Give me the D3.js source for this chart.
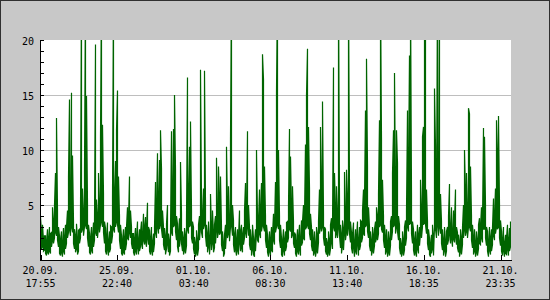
<!DOCTYPE html>
<html>
<head>
<meta charset="utf-8">
<script src="https://cdn.jsdelivr.net/npm/d3@7"></script>
<style>
  body { margin: 0; background: #c8c8c8; }
  svg { display: block; }
  text { font-family: "DejaVu Sans Mono", monospace; font-size: 10px; fill: #000; }
</style>
</head>
<body>
<div id="chart"></div>
<script>

// x tick labels (date line + time line)
var tickDates = ["2011-09-20 17:55", "2011-09-25 22:40", "2011-10-01 03:40",
  "2011-10-06 08:30", "2011-10-11 13:40", "2011-10-16 18:35", "2011-10-21 23:35"];

// y ticks
var yLabels = [5, 10, 15, 20];
var yMinor = d3.range(0, 21);

// one consolidated step per pixel column, first step at 20.09. 17:55
var startTime = "2011-09-20 17:55";
var sampleMinutes = 97.78;

// max value of each step (above 20 gets clipped)
var highs = [
  3.9, 2.5, 3.2, 1.8, 2.2,
  2.2, 1.6, 2.8, 1.9, 3.0, 2.4,
  2.5, 4.8, 3.5, 5.0, 7.9, 12.9, 4.5,
  3.0, 2.2, 1.8, 2.6, 1.5, 2.9, 2.0, 3.2,
  3.0, 4.5, 7.6, 14.6, 5.0, 15.2, 9.5,
  3.5, 2.8, 2.2, 3.3, 1.8, 2.7,
  2.8, 4.2, 25, 6.5, 4.2, 8.0, 25, 14.9, 5.0,
  3.2, 2.4, 1.9, 3.0, 2.1, 3.4,
  3.5, 19.6, 5.5, 4.0, 7.9, 5.0, 11.2, 25, 12.3, 6.0, 3.5,
  2.9, 2.1, 3.4, 1.7, 2.6, 3.1,
  3.0, 5.5, 25, 6.0, 9.0, 11.8, 15.4, 7.6, 4.0,
  3.2, 2.2, 1.7, 2.8, 1.9, 3.0,
  3.0, 4.8, 3.5, 7.6, 4.5, 3.0, 2.4,
  2.4, 1.8, 2.9, 2.0, 3.5, 1.8, 2.8,
  2.5, 3.5, 2.2, 4.2, 3.0, 3.9, 2.8, 5.2, 3.0,
  2.7, 1.9, 3.0, 1.6, 2.4,
  3.0, 7.1, 4.5, 9.7, 5.5, 9.1, 11.8, 8.3, 4.5, 3.0,
  2.9, 2.1, 3.3, 5.0, 2.4, 1.7, 2.7,
  11.7, 6.0, 11.9, 15.0, 8.2, 4.0,
  3.3, 2.4, 3.8, 8.9, 4.2, 2.6, 1.9, 2.9, 2.2, 3.6,
  16.6, 6.0, 10.3, 12.6, 4.5, 3.5,
  3.0, 2.1, 1.5, 2.7, 1.8, 3.2,
  4.0, 17.3, 5.5, 4.0, 6.5, 17.2, 5.0,
  3.2, 2.3, 3.5, 1.9, 6.0, 2.8, 4.5, 2.3, 3.2, 4.0,
  9.3, 4.0, 8.5, 5.5, 7.6, 3.0,
  2.6, 1.4, 2.3, 3.2,
  10.3, 4.5, 6.7, 3.5, 11.1, 25, 5.0,
  3.6, 2.3, 3.0, 1.8, 2.8, 2.0, 4.5, 2.6, 3.2, 2.3,
  3.0, 4.5, 7.0, 4.0, 11.7, 5.0, 3.0,
  2.8, 1.8, 3.2, 2.0, 1.6, 2.8,
  10.0, 4.0, 3.5, 6.4, 4.5, 7.0, 18.7, 16.4, 8.5, 4.0,
  3.2, 2.3, 1.5, 2.6, 1.8, 3.0, 2.3,
  4.2, 3.0, 7.1, 15.3, 25, 10.0, 4.0,
  3.2, 2.0, 1.6, 2.8, 1.8, 2.6, 3.4,
  3.5, 5.0, 11.9, 9.4, 4.5, 6.7, 3.5, 2.5,
  2.3, 1.5, 2.8, 2.0, 3.2, 1.8, 3.6,
  3.5, 5.0, 4.0, 10.5, 15.0, 19.2, 12.1, 6.5, 4.2, 3.0,
  2.8, 1.8, 2.6, 1.4, 3.0, 2.3,
  3.5, 6.4, 12.1, 7.0, 14.4, 4.2, 3.0,
  2.8, 2.0, 1.5, 2.6, 1.8, 3.2, 3.8, 2.8,
  17.5, 7.9, 4.5, 6.7, 4.2, 25, 5.5,
  3.2, 2.3, 3.6, 2.8,
  8.0, 4.0, 8.2, 5.5, 25, 6.4, 3.5, 2.5,
  2.3, 3.4, 1.6, 2.8, 2.0, 3.5, 1.8, 3.0, 3.6,
  3.5, 4.5, 6.4, 5.5, 13.6, 18.3, 8.5, 4.8, 3.0,
  2.6, 1.7, 3.0, 2.2,
  2.8, 3.5, 4.8, 4.0, 6.0, 12.7, 25, 10.9, 7.3, 4.0,
  3.2, 2.0, 2.8, 1.5, 2.6, 1.8, 3.5,
  4.0, 7.9, 11.8, 17.0, 6.0, 11.8, 8.8, 4.0,
  3.2, 2.0, 1.4, 2.6, 1.8, 3.0, 3.6,
  4.5, 13.6, 7.9, 18.6, 25, 6.0, 3.5,
  2.8, 1.8, 2.6, 1.5, 3.2, 2.3,
  3.0, 7.3, 4.5, 11.2, 12.1, 25, 25, 6.4, 3.5,
  2.8, 2.0, 1.4, 2.3, 3.2, 1.8,
  15.6, 10.3, 4.5, 25, 5.5, 25, 6.0, 3.5,
  2.8, 1.8, 3.0, 1.6, 2.6,
  3.0, 4.0, 6.9, 3.0, 4.8, 2.5, 4.5, 3.5, 6.4, 3.0, 2.5,
  2.3, 1.6, 2.8, 2.0,
  3.0, 5.0, 10.0, 6.0, 7.9, 4.5, 13.8, 13.3, 8.5, 4.0,
  3.2, 2.0, 2.8, 1.5, 2.6, 1.8, 3.2, 3.8,
  3.0, 4.8, 3.5, 12.0, 11.2, 5.0, 3.0,
  2.6, 1.6, 3.0, 2.0, 2.8,
  3.0, 5.6, 4.0, 6.5, 12.7, 9.4, 13.1, 5.0,
  3.6, 2.6, 1.8, 3.0, 1.5, 2.3, 2.0, 3.2, 1.8, 2.9, 3.5
];

// min value of each step
var lows = [
  1.5, 1.0, 1.2, 0.8, 0.9,
  0.6, 0.4, 0.7, 0.5, 0.8, 0.6,
  1.2, 1.8, 1.5, 2.0, 2.5, 2.2, 1.8,
  1.2, 0.6, 0.4, 0.7, 0.3, 0.8, 0.5, 1.0,
  1.5, 2.0, 2.5, 2.8, 2.2, 3.0, 2.5,
  1.5, 1.0, 0.7, 1.0, 0.5, 0.8,
  1.5, 2.0, 2.5, 2.8, 2.2, 3.0, 3.2, 2.8, 2.0,
  1.2, 0.7, 0.5, 0.9, 0.6, 1.2,
  1.8, 2.5, 2.2, 2.0, 3.0, 2.5, 3.2, 3.5, 3.0, 2.5, 1.5,
  0.8, 0.5, 1.0, 0.4, 0.7, 1.0,
  1.5, 2.2, 2.8, 2.5, 3.0, 3.5, 3.2, 2.5, 1.8,
  1.0, 0.6, 0.4, 0.7, 0.5, 0.9,
  1.5, 2.0, 1.8, 2.5, 2.0, 1.5, 1.0,
  0.7, 0.4, 0.8, 0.5, 1.2, 0.5, 0.8,
  1.2, 1.5, 1.0, 1.8, 1.4, 1.7, 1.2, 2.0, 1.4,
  0.8, 0.5, 0.9, 0.4, 0.7,
  1.5, 2.5, 2.0, 3.0, 2.4, 2.8, 3.2, 2.8, 2.0, 1.4,
  0.9, 0.5, 1.0, 1.5, 0.7, 0.4, 0.8,
  2.5, 2.2, 3.0, 3.2, 2.6, 1.8,
  1.2, 0.7, 1.2, 2.0, 1.5, 0.8, 0.5, 0.9, 0.6, 1.3,
  2.8, 2.4, 3.0, 3.2, 2.0, 1.5,
  1.0, 0.5, 0.3, 0.7, 0.4, 1.0,
  1.8, 3.0, 2.5, 2.0, 2.8, 3.2, 2.2,
  1.2, 0.7, 1.2, 0.5, 1.8, 0.9, 1.6, 0.7, 1.1, 1.5,
  2.8, 2.0, 2.6, 2.3, 2.5, 1.4,
  0.8, 0.3, 0.6, 1.0,
  2.5, 2.0, 2.4, 1.7, 3.0, 3.2, 2.2,
  1.4, 0.7, 1.0, 0.4, 0.9, 0.5, 1.6, 0.8, 1.1, 0.7,
  1.4, 2.0, 2.5, 2.0, 3.0, 2.2, 1.4,
  0.9, 0.4, 1.0, 0.5, 0.3, 0.8,
  2.5, 1.8, 1.6, 2.4, 2.0, 2.6, 3.2, 3.0, 2.6, 1.8,
  1.1, 0.7, 0.3, 0.8, 0.4, 0.9, 0.7,
  1.8, 1.4, 2.5, 3.0, 3.2, 2.8, 1.8,
  1.1, 0.5, 0.3, 0.9, 0.4, 0.8, 1.2,
  1.6, 2.0, 2.8, 2.6, 2.0, 2.3, 1.5, 1.1,
  0.6, 0.3, 0.8, 0.5, 1.0, 0.4, 1.3,
  1.6, 2.0, 1.8, 2.8, 3.0, 3.2, 2.8, 2.4, 1.8, 1.3,
  0.8, 0.4, 0.7, 0.3, 0.9, 0.6,
  1.6, 2.4, 3.0, 2.6, 3.0, 2.0, 1.3,
  0.8, 0.5, 0.3, 0.7, 0.4, 1.0, 1.6, 1.0,
  3.0, 2.6, 2.0, 2.4, 2.0, 3.0, 2.2,
  1.1, 0.6, 1.3, 0.9,
  2.6, 1.8, 2.6, 2.2, 3.0, 2.4, 1.6, 1.1,
  0.6, 1.2, 0.3, 0.8, 0.5, 1.5, 0.4, 0.9, 1.3,
  1.6, 2.0, 2.4, 2.2, 3.0, 3.2, 2.6, 2.0, 1.3,
  0.8, 0.4, 0.9, 0.6,
  1.3, 1.6, 2.0, 1.8, 2.4, 3.0, 3.2, 2.8, 2.5, 1.8,
  1.1, 0.5, 0.8, 0.3, 0.7, 0.4, 1.3,
  1.8, 2.6, 3.0, 3.2, 2.4, 3.0, 2.6, 1.8,
  1.1, 0.5, 0.3, 0.7, 0.4, 0.9, 1.3,
  2.0, 3.0, 2.6, 3.2, 3.4, 2.4, 1.5,
  0.9, 0.4, 0.7, 0.3, 1.0, 0.6,
  1.3, 2.4, 2.0, 3.0, 3.2, 3.4, 3.2, 2.4, 1.5,
  0.9, 0.5, 0.3, 0.6, 1.0, 0.4,
  3.0, 2.8, 2.0, 3.2, 2.2, 3.0, 2.4, 1.5,
  0.9, 0.4, 0.9, 0.3, 0.8,
  1.4, 1.8, 2.4, 1.5, 2.0, 1.2, 1.9, 1.6, 2.2, 1.4, 1.1,
  0.7, 0.3, 0.8, 0.5,
  1.4, 2.0, 2.8, 2.2, 2.6, 2.0, 3.0, 3.0, 2.6, 1.8,
  1.1, 0.5, 0.8, 0.3, 0.7, 0.4, 1.0, 1.5,
  1.4, 2.0, 1.6, 2.8, 2.8, 2.0, 1.3,
  0.8, 0.3, 0.9, 0.5, 0.8,
  1.4, 2.2, 1.8, 2.4, 3.0, 2.8, 3.0, 2.0,
  1.3, 0.8, 0.4, 0.9, 0.3, 0.6, 0.5, 1.0, 0.4, 0.8, 1.2
];

var width = 550, height = 300;
var margin = {top: 40, right: 39, bottom: 40, left: 40};

var parse = d3.utcParse("%Y-%m-%d %H:%M");
var t0 = parse(startTime).getTime();
var step = sampleMinutes * 60000;

// each step is drawn as min -> max (or max -> min) inside its pixel column
var data = [];
highs.forEach(function(h, i) {
  var t = new Date(t0 + i * step);
  var pair = [{time: t, value: lows[i]}, {time: t, value: h}];
  if (i % 2) pair.reverse();
  data.push(pair[0], pair[1]);
});

var svg = d3.select("#chart").append("svg")
    .attr("width", width)
    .attr("height", height);

// frame
svg.append("rect")
    .attr("x", 0.5).attr("y", 0.5)
    .attr("width", width - 1).attr("height", height - 1)
    .style("fill", "#c8c8c8")
    .style("stroke", "#303030");

var x = d3.scaleUtc()
    .domain([new Date(t0 - step / 2), new Date(t0 + (highs.length - 0.5) * step)])
    .range([margin.left, width - margin.right]);

var y = d3.scaleLinear()
    .domain([0, 20])
    .range([height - margin.bottom, margin.top]);

// plot background
svg.append("rect")
    .attr("x", margin.left)
    .attr("y", margin.top)
    .attr("width", width - margin.left - margin.right)
    .attr("height", height - margin.top - margin.bottom)
    .style("fill", "#fff");

// grid lines
svg.selectAll(".grid")
    .data([5, 10, 15])
    .enter().append("line")
    .attr("class", "grid")
    .attr("x1", margin.left)
    .attr("x2", width - margin.right)
    .attr("y1", function(d) { return Math.round(y(d)) + 0.5; })
    .attr("y2", function(d) { return Math.round(y(d)) + 0.5; })
    .style("stroke", "#bebebe")
    .style("shape-rendering", "crispEdges");

svg.append("clipPath")
    .attr("id", "plot-clip")
  .append("rect")
    .attr("x", margin.left)
    .attr("y", margin.top)
    .attr("width", width - margin.left - margin.right)
    .attr("height", height - margin.top - margin.bottom);

var line = d3.line()
    .x(function(d) { return x(d.time); })
    .y(function(d) { return y(d.value); });

svg.append("path")
    .datum(data)
    .attr("clip-path", "url(#plot-clip)")
    .attr("d", line)
    .style("fill", "none")
    .style("stroke", "#006400")
    .style("stroke-width", 1.2);

// y axis: small inward ticks every unit, labels every 5
svg.append("g")
    .attr("transform", "translate(" + margin.left + ",0)")
    .call(d3.axisLeft(y).tickValues(yMinor).tickSize(-4).tickSizeOuter(0).tickFormat(""));

var yAxis = svg.append("g")
    .attr("transform", "translate(" + margin.left + ",0)")
    .call(d3.axisLeft(y).tickValues(yLabels).tickSize(0).tickPadding(6));
yAxis.select(".domain").remove();
yAxis.selectAll("text")
    .attr("dy", "0.4em")
    .style("font-family", "DejaVu Sans Mono")
    .style("font-size", "10px");

// x axis: inward ticks, two-line labels
var tickTimes = tickDates.map(parse);

svg.append("g")
    .attr("transform", "translate(0," + (height - margin.bottom) + ")")
    .call(d3.axisBottom(x).tickValues(tickTimes).tickSize(-5).tickSizeOuter(0).tickFormat(""));

svg.selectAll(".domain, .tick line")
    .style("stroke", "#000")
    .style("shape-rendering", "crispEdges");

var fmtDate = d3.utcFormat("%d.%m."), fmtTime = d3.utcFormat("%H:%M");

var labels = svg.selectAll(".xlabel")
    .data(tickTimes)
    .enter().append("text")
    .attr("class", "xlabel")
    .attr("text-anchor", "middle");

labels.append("tspan")
    .attr("x", function(d) { return x(d); })
    .attr("y", 274)
    .text(function(d) { return fmtDate(d); });

labels.append("tspan")
    .attr("x", function(d) { return x(d); })
    .attr("y", 287)
    .text(function(d) { return fmtTime(d); });

</script>
</body>
</html>
